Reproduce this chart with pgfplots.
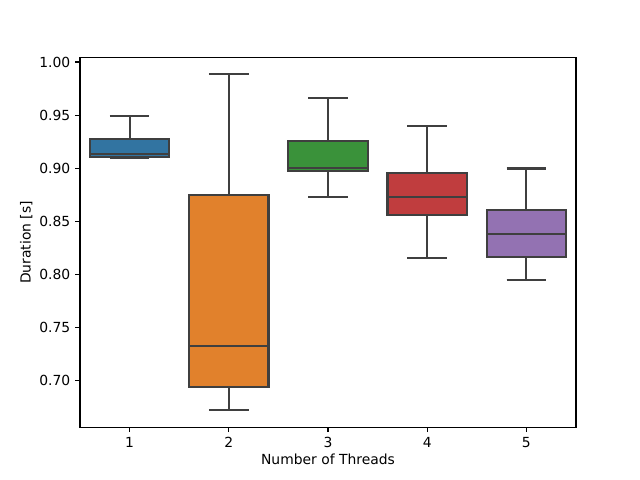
\documentclass[border=0pt]{standalone}
\usepackage{fontspec}
\setmainfont{DejaVu Sans}
\usepackage{pgfplots}
\pgfplotsset{compat=1.18}
\usepgfplotslibrary{statistics}
\definecolor{sb1}{HTML}{3274A1}
\definecolor{sb2}{HTML}{E1812C}
\definecolor{sb3}{HTML}{3A923A}
\definecolor{sb4}{HTML}{C03D3E}
\definecolor{sb5}{HTML}{9372B2}
\definecolor{edge}{HTML}{3F3F3F}
\begin{document}
\begin{tikzpicture}
\begin{axis}[
  at={(0,0)}, anchor=origin,
  scale only axis, width=357.12pt, height=266.11pt,
  xmin=0.5, xmax=5.5, ymin=0.656, ymax=1.0042,
  xtick={1,2,3,4,5}, xticklabels={1,2,3,4,5},
  ytick={0.70,0.75,0.80,0.85,0.90,0.95,1.00},
  yticklabel style={/pgf/number format/.cd, fixed, fixed zerofill, precision=2},
  /pgf/number format/assume math mode=true,
  tick align=outside, major tick length=3.5pt,
  tick style={black, line width=0.8pt},
  xtick pos=bottom, ytick pos=left,
  axis line style={line width=0.8pt},
  ticklabel style={font=\fontsize{10}{12}\selectfont},
  label style={font=\fontsize{10}{12}\selectfont},
  xlabel={Number of Threads}, ylabel={Duration [s]},
  xlabel style={yshift=2pt},
  ylabel style={yshift=-2pt},
  boxplot/draw direction=y,
  boxplot/box extend=0.8, boxplot/whisker extend=0.4,
]
\addplot[boxplot prepared={lower whisker=0.9094, lower quartile=0.9107, median=0.9132, upper quartile=0.9271, upper whisker=0.9494, draw position=1},
  fill=sb1, draw=edge, line width=1.5pt] coordinates {};
\addplot[boxplot prepared={lower whisker=0.6720, lower quartile=0.6937, median=0.7324, upper quartile=0.8745, upper whisker=0.9887, draw position=2},
  fill=sb2, draw=edge, line width=1.5pt] coordinates {};
\addplot[boxplot prepared={lower whisker=0.8729, lower quartile=0.8974, median=0.9002, upper quartile=0.9255, upper whisker=0.9663, draw position=3},
  fill=sb3, draw=edge, line width=1.5pt] coordinates {};
\addplot[boxplot prepared={lower whisker=0.8154, lower quartile=0.8559, median=0.8729, upper quartile=0.8956, upper whisker=0.9399, draw position=4},
  fill=sb4, draw=edge, line width=1.5pt] coordinates {};
\addplot[boxplot prepared={lower whisker=0.7950, lower quartile=0.8164, median=0.8384, upper quartile=0.8607, upper whisker=0.8997, draw position=5},
  fill=sb5, draw=edge, line width=1.5pt] coordinates {};
\end{axis}
\path[use as bounding box] (-57.6pt,-38.02pt) rectangle (403.2pt,307.58pt);
\end{tikzpicture}
\end{document}
